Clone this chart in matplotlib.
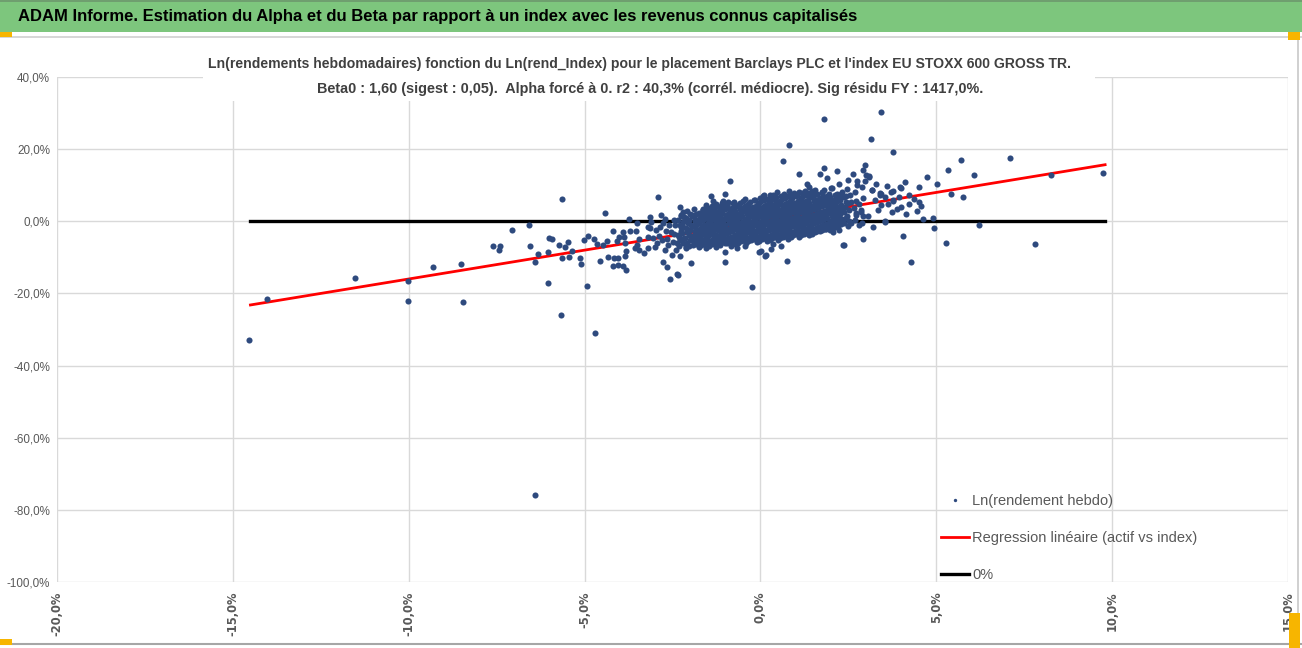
import matplotlib
matplotlib.use("Agg")
import matplotlib.pyplot as plt
from matplotlib.ticker import FuncFormatter, MultipleLocator
from matplotlib.patches import Rectangle
from matplotlib.lines import Line2D

plt.rcParams['font.family'] = ['Liberation Sans', 'DejaVu Sans']

header = "ADAM Informe. Estimation du Alpha et du Beta par rapport à un index avec les revenus connus capitalisés"
title_1 = "Ln(rendements hebdomadaires) fonction du Ln(rend_Index) pour le placement Barclays PLC et l'index EU STOXX 600 GROSS TR."
title_2 = "Beta0 : 1,60 (sigest : 0,05).  Alpha forcé à 0. r2 : 40,3% (corrél. médiocre). Sig résidu FY : 1417,0%."
legend_labels = ["Ln(rendement hebdo)", "Regression linéaire (actif vs index)", "0%"]

beta0 = 1.60
line_x = [-14.5, 9.8]   # range of the index returns (%)

# weekly log returns (%): (index, asset)
pts_left_tail = [
    (-14.55, -33.0), (-14.03, -21.6), (-11.53, -15.8), (-10.03, -16.6), (-10.03, -22.2),
    (-9.32, -12.7), (-8.52, -11.9), (-8.47, -22.4), (-7.59, -6.9), (-7.41, -6.9),
    (-7.44, -8.0), (-7.07, -2.4), (-6.58, -0.9), (-6.56, -6.9), (-6.42, -75.9),
    (-6.42, -11.3), (-6.31, -9.1), (-6.05, -8.6), (-6.05, -17.2), (-6.02, -4.7),
    (-5.94, -5.0), (-5.74, -6.6), (-5.65, -10.2), (-5.65, 6.1), (-5.68, -26.0),
    (-5.55, -7.2), (-5.47, -5.8), (-5.43, -10.0), (-5.35, -8.3), (-5.12, -10.2),
    (-5.09, -11.9), (-5.03, -5.3), (-4.94, -18.0), (-4.89, -4.2), (-4.74, -5.0),
    (-4.66, -6.4), (-4.69, -31.0), (-4.55, -11.1), (-4.49, -6.6), (-4.43, 2.2),
    (-4.37, -5.6), (-4.32, -10.0), (-4.20, -12.5), (-4.18, -2.8), (-4.15, -10.2),
    (-4.06, -10.2), (-4.06, -12.2), (-4.09, -5.6), (-4.01, -4.4), (-3.92, -3.0),
    (-3.92, -12.5), (-3.89, -4.4), (-3.86, -9.7), (-3.81, -13.6), (-3.84, -6.1),
    (-3.81, -8.3), (-3.75, 0.5), (-3.72, -2.8), (-3.52, -0.6), (-3.55, -2.8),
    (-3.52, -6.6), (-3.58, -7.5), (-3.44, -5.0), (-3.44, -8.0), (-3.32, -8.9),
    (-3.21, -1.7), (-3.21, -4.4), (-3.21, -7.5),
]

pts_mid_left = [
    (-3.15, 1.2), (-3.15, -1.8), (-3.10, -0.2), (-3.01, -7.1), (-2.96, -2.5),
    (-2.90, 6.7), (-2.89, -4.1), (-2.82, 1.7), (-2.77, -0.6), (-2.77, -11.3),
    (-2.70, -8.0), (-2.68, -2.7), (-2.66, -12.8), (-2.59, -1.1), (-2.57, -15.9),
    (-2.49, -5.7), (-2.47, 0.3), (-2.40, -8.0), (-2.38, -14.7), (-2.32, -4.3),
    (-2.28, 4.0), (-2.25, -1.6), (-2.19, 2.6), (-2.13, -7.1), (-2.11, 0.7),
    (-2.04, -2.5), (-1.97, -11.6), (-1.94, 1.7), (-1.88, -5.7), (-1.62, 3.5),
    (-1.54, -6.2), (-1.40, 6.9), (-1.31, 4.2), (-1.18, 2.1), (-1.07, 4.4),
    (-1.00, 7.5), (-1.00, -8.5), (-1.00, -11.3), (-0.93, 5.3), (-0.86, 11.2),
    (-0.55, 3.0), (-0.24, -18.2), (-0.03, -8.5), (0.16, -9.4), (0.35, -6.2),
    (0.26, 7.2), (0.43, 5.1), (-3.05, -4.6), (-2.95, -6.0), (-2.85, -1.5),
    (-2.80, -5.2), (-2.72, 0.6), (-2.65, -4.8), (-2.62, -6.6), (-2.55, -2.9),
    (-2.52, -9.4), (-2.45, -3.6), (-2.42, -1.0), (-2.36, -6.1), (-2.30, -9.6),
    (-2.27, 1.5), (-2.33, -14.8), (-1.56, -7.3), (-1.26, -7.1), (-0.83, -6.9),
    (-0.67, -7.3), (-0.45, -6.9), (-1.34, 5.6), (-1.63, 3.2), (0.13, -9.5),
    (0.30, -7.6), (0.02, -8.2), (0.59, -6.9), (0.75, -11.0),
]

pts_core = [
    (-2.31, -6.8), (-2.28, -5.2), (-2.33, -3.9), (-2.27, -2.6), (-2.30, -1.0), (-2.34, 0.4), (-2.26, 1.8),
    (-2.12, -7.5), (-2.08, -6.0), (-2.14, -4.6), (-2.09, -3.1), (-2.11, -1.9), (-2.06, -0.5), (-2.13, 0.9), (-2.10, 2.9),
    (-1.92, -6.6), (-1.88, -5.4), (-1.93, -4.0), (-1.87, -2.8), (-1.91, -1.3), (-1.86, 0.1), (-1.94, 1.4), (-1.89, 3.3),
    (-1.76, -7.0), (-1.72, -5.8), (-1.77, -4.4), (-1.74, -3.3), (-1.71, -2.0), (-1.78, -0.6), (-1.73, 0.8), (-1.75, 2.2),
    (-1.61, -6.3), (-1.58, -5.0), (-1.63, -3.6), (-1.57, -2.3), (-1.60, -1.1), (-1.64, 0.3), (-1.59, 1.7), (-1.62, 3.0), (-1.56, 4.6),
    (-1.46, -6.9), (-1.43, -5.5), (-1.48, -4.2), (-1.44, -2.9), (-1.42, -1.6), (-1.47, -0.2), (-1.45, 1.2), (-1.41, 2.5), (-1.49, 3.7),
    (-1.31, -5.9), (-1.28, -4.7), (-1.33, -3.4), (-1.27, -2.1), (-1.30, -0.8), (-1.34, 0.6), (-1.29, 1.9), (-1.32, 3.2), (-1.26, 4.8),
    (-1.16, -6.6), (-1.13, -5.3), (-1.18, -4.0), (-1.14, -2.6), (-1.12, -1.3), (-1.17, 0.1), (-1.15, 1.4), (-1.11, 2.8), (-1.19, 4.0),
    (-1.01, -6.1), (-0.98, -4.8), (-1.03, -3.5), (-0.97, -2.2), (-1.00, -0.9), (-1.04, 0.5), (-0.99, 1.8), (-1.02, 3.3), (-0.96, 4.6), (-1.05, 5.6),
    (-0.86, -5.6), (-0.83, -4.3), (-0.88, -3.0), (-0.84, -1.7), (-0.82, -0.4), (-0.87, 0.9), (-0.85, 2.3), (-0.81, 3.6),
    (-0.71, -6.4), (-0.68, -5.0), (-0.73, -3.7), (-0.67, -2.4), (-0.70, -1.1), (-0.74, 0.3), (-0.69, 1.6), (-0.72, 2.9), (-0.66, 4.3), (-0.75, 5.4),
    (-0.56, -5.5), (-0.53, -4.2), (-0.58, -2.9), (-0.54, -1.5), (-0.52, -0.2), (-0.57, 1.1), (-0.55, 2.4), (-0.51, 3.8), (-0.59, 5.0),
    (-0.41, -6.0), (-0.38, -4.7), (-0.43, -3.4), (-0.37, -2.0), (-0.40, -0.7), (-0.44, 0.6), (-0.39, 2.0), (-0.42, 3.3), (-0.36, 4.5), (-0.45, 6.1),
    (-0.26, -5.2), (-0.23, -3.9), (-0.28, -2.6), (-0.24, -1.3), (-0.22, 0.0), (-0.27, 1.4), (-0.25, 2.7), (-0.21, 4.0), (-0.29, 5.3),
    (-0.11, -5.8), (-0.08, -4.5), (-0.13, -3.1), (-0.07, -1.8), (-0.10, -0.5), (-0.14, 0.8), (-0.09, 2.1), (-0.12, 3.5), (-0.06, 4.8), (-0.15, 6.0),
    (0.04, -5.0), (0.07, -3.6), (0.02, -2.3), (0.06, -1.0), (0.08, 0.3), (0.03, 1.6), (0.05, 2.9), (0.09, 4.2), (0.01, 5.6), (0.06, 6.9),
    (0.19, -5.5), (0.22, -4.2), (0.17, -2.8), (0.23, -1.5), (0.20, -0.2), (0.16, 1.1), (0.21, 2.4), (0.18, 3.7), (0.24, 5.0), (0.15, 6.3),
    (0.34, -4.7), (0.37, -3.4), (0.32, -2.1), (0.36, -0.8), (0.38, 0.5), (0.33, 1.8), (0.35, 3.2), (0.39, 4.5), (0.31, 5.8), (0.36, 7.2),
    (0.49, -5.1), (0.52, -3.8), (0.47, -2.5), (0.53, -1.2), (0.50, 0.1), (0.46, 1.4), (0.51, 2.7), (0.48, 4.0), (0.54, 5.3), (0.45, 6.6),
    (0.64, -4.4), (0.67, -3.1), (0.62, -1.8), (0.66, -0.5), (0.68, 0.8), (0.63, 2.1), (0.65, 3.4), (0.69, 4.8), (0.61, 6.1), (0.66, 7.5),
    (0.79, -4.8), (0.82, -3.5), (0.77, -2.2), (0.83, -0.9), (0.80, 0.4), (0.76, 1.7), (0.81, 3.0), (0.78, 4.3), (0.84, 5.7), (0.75, 7.0),
    (0.94, -3.9), (0.97, -2.6), (0.92, -1.3), (0.96, 0.0), (0.98, 1.3), (0.93, 2.6), (0.95, 3.9), (0.99, 5.2), (0.91, 6.5), (0.96, 7.9),
    (1.09, -4.3), (1.12, -3.0), (1.07, -1.7), (1.13, -0.4), (1.10, 0.9), (1.06, 2.2), (1.11, 3.5), (1.08, 4.8), (1.14, 6.1), (1.05, 7.4),
    (1.24, -3.5), (1.27, -2.2), (1.22, -0.9), (1.26, 0.4), (1.28, 1.7), (1.23, 3.0), (1.25, 4.3), (1.29, 5.6), (1.21, 6.9), (1.26, 8.4),
    (1.39, -3.9), (1.42, -2.6), (1.37, -1.3), (1.43, 0.0), (1.40, 1.3), (1.36, 2.6), (1.41, 3.9), (1.38, 5.2), (1.44, 6.6), (1.35, 7.9),
    (1.54, -3.1), (1.57, -1.8), (1.52, -0.5), (1.56, 0.8), (1.58, 2.1), (1.53, 3.4), (1.55, 4.7), (1.59, 6.0), (1.51, 7.3), (1.56, 8.8),
    (1.69, -2.6), (1.72, -1.3), (1.67, 0.0), (1.73, 1.3), (1.70, 2.6), (1.66, 3.9), (1.71, 5.2), (1.68, 6.5), (1.74, 7.8),
    (1.84, -2.0), (1.87, -0.7), (1.82, 0.6), (1.86, 1.9), (1.88, 3.2), (1.83, 4.5), (1.85, 5.8), (1.89, 7.1), (1.81, 8.6),
    (1.99, -2.4), (2.02, -1.1), (1.97, 0.2), (2.03, 1.5), (2.00, 2.8), (1.96, 4.1), (2.01, 5.4), (1.98, 6.8), (2.04, 9.2),
    (2.14, -1.6), (2.17, -0.3), (2.12, 1.0), (2.16, 2.3), (2.18, 3.6), (2.13, 4.9), (2.15, 6.2), (2.19, 7.6),
    (2.29, -0.8), (2.32, 0.5), (2.27, 1.9), (2.33, 3.2), (2.30, 4.6), (2.26, 6.0), (2.31, 8.2),
    (2.48, -1.3), (2.53, 0.2), (2.46, 1.6), (2.52, 3.0), (2.49, 5.0), (2.55, 7.3), (2.47, 9.0),
    (2.68, 0.4), (2.73, 2.2), (2.66, 3.8), (2.71, 5.6), (2.69, 8.0), (2.74, 10.1),
    (2.89, -0.6), (2.93, 1.4), (2.87, 3.1), (2.92, 6.4), (2.88, 9.4),
]

# second, offset pass over the densest part of the cloud
pts_core_fill = [
    (-2.21, -6.1), (-2.18, -4.5), (-2.22, -3.2), (-2.19, -1.6), (-2.20, -0.2), (-2.17, 1.2),
    (-2.02, -6.8), (-1.99, -5.2), (-2.03, -3.8), (-2.00, -2.4), (-1.98, -1.1), (-2.04, 0.4), (-2.01, 2.0),
    (-1.84, -6.2), (-1.81, -4.8), (-1.85, -3.5), (-1.82, -2.2), (-1.80, -0.8), (-1.86, 0.6), (-1.83, 1.9),
    (-1.69, -6.6), (-1.66, -5.3), (-1.70, -3.9), (-1.67, -2.6), (-1.65, -1.3), (-1.71, 0.0), (-1.68, 1.4), (-1.64, 2.7),
    (-1.54, -5.8), (-1.51, -4.4), (-1.55, -3.1), (-1.52, -1.8), (-1.50, -0.5), (-1.56, 0.9), (-1.53, 2.2), (-1.49, 3.5),
    (-1.39, -6.3), (-1.36, -4.9), (-1.40, -3.6), (-1.37, -2.3), (-1.35, -1.0), (-1.41, 0.4), (-1.38, 1.8), (-1.34, 3.1), (-1.39, 4.2),
    (-1.24, -6.1), (-1.21, -5.0), (-1.25, -3.7), (-1.22, -2.4), (-1.20, -1.0), (-1.26, 0.3), (-1.23, 1.6), (-1.19, 2.9), (-1.24, 4.1),
    (-1.09, -5.7), (-1.06, -4.4), (-1.10, -3.1), (-1.07, -1.8), (-1.05, -0.5), (-1.11, 0.9), (-1.08, 2.2), (-1.04, 3.5), (-1.09, 5.0),
    (-0.94, -6.0), (-0.91, -4.6), (-0.95, -3.3), (-0.92, -2.0), (-0.90, -0.6), (-0.96, 0.7), (-0.93, 2.0), (-0.89, 3.3), (-0.94, 4.4),
    (-0.79, -5.4), (-0.76, -4.1), (-0.80, -2.8), (-0.77, -1.5), (-0.75, -0.2), (-0.81, 1.2), (-0.78, 2.5), (-0.74, 3.9), (-0.79, 5.0),
    (-0.64, -5.9), (-0.61, -4.6), (-0.65, -3.3), (-0.62, -1.9), (-0.60, -0.6), (-0.66, 0.7), (-0.63, 2.0), (-0.59, 3.4), (-0.64, 4.6),
    (-0.49, -5.2), (-0.46, -3.9), (-0.50, -2.5), (-0.47, -1.2), (-0.45, 0.1), (-0.51, 1.5), (-0.48, 2.8), (-0.44, 4.1), (-0.49, 5.5),
    (-0.34, -5.6), (-0.31, -4.3), (-0.35, -3.0), (-0.32, -1.6), (-0.30, -0.3), (-0.36, 1.0), (-0.33, 2.4), (-0.29, 3.7), (-0.34, 4.9),
    (-0.19, -5.0), (-0.16, -3.6), (-0.20, -2.3), (-0.17, -1.0), (-0.15, 0.3), (-0.21, 1.7), (-0.18, 3.0), (-0.14, 4.3), (-0.19, 5.8),
    (-0.04, -5.4), (-0.01, -4.1), (-0.05, -2.7), (-0.02, -1.4), (0.00, -0.1), (-0.06, 1.2), (-0.03, 2.5), (0.01, 3.8), (-0.04, 5.2), (-0.02, 6.4),
    (0.11, -4.6), (0.14, -3.3), (0.10, -2.0), (0.13, -0.7), (0.15, 0.6), (0.09, 1.9), (0.12, 3.2), (0.16, 4.5), (0.11, 5.9),
    (0.26, -5.1), (0.29, -3.8), (0.25, -2.4), (0.28, -1.1), (0.30, 0.2), (0.24, 1.5), (0.27, 2.8), (0.31, 4.1), (0.26, 5.4), (0.28, 6.7),
    (0.41, -4.3), (0.44, -3.0), (0.40, -1.7), (0.43, -0.4), (0.45, 0.9), (0.39, 2.2), (0.42, 3.5), (0.46, 4.8), (0.41, 6.2),
    (0.56, -4.7), (0.59, -3.4), (0.55, -2.1), (0.58, -0.8), (0.60, 0.5), (0.54, 1.8), (0.57, 3.1), (0.61, 4.4), (0.56, 5.7), (0.58, 7.0),
    (0.71, -4.0), (0.74, -2.7), (0.70, -1.4), (0.73, -0.1), (0.75, 1.2), (0.69, 2.5), (0.72, 3.8), (0.76, 5.1), (0.71, 6.4),
    (0.86, -4.3), (0.89, -3.0), (0.85, -1.7), (0.88, -0.4), (0.90, 0.9), (0.84, 2.2), (0.87, 3.5), (0.91, 4.8), (0.86, 6.1), (0.88, 7.4),
    (1.01, -3.6), (1.04, -2.3), (1.00, -1.0), (1.03, 0.3), (1.05, 1.6), (0.99, 2.9), (1.02, 4.2), (1.06, 5.5), (1.01, 6.9),
    (1.16, -3.9), (1.19, -2.6), (1.15, -1.3), (1.18, 0.0), (1.20, 1.3), (1.14, 2.6), (1.17, 3.9), (1.21, 5.2), (1.16, 6.5), (1.18, 7.8),
    (1.31, -3.2), (1.34, -1.9), (1.30, -0.6), (1.33, 0.7), (1.35, 2.0), (1.29, 3.3), (1.32, 4.6), (1.36, 5.9), (1.31, 7.3),
    (1.46, -3.5), (1.49, -2.2), (1.45, -0.9), (1.48, 0.4), (1.50, 1.7), (1.44, 3.0), (1.47, 4.3), (1.51, 5.6), (1.46, 6.9), (1.48, 8.3),
    (1.61, -2.8), (1.64, -1.5), (1.60, -0.2), (1.63, 1.1), (1.65, 2.4), (1.59, 3.7), (1.62, 5.0), (1.66, 6.3), (1.61, 7.6),
    (1.76, -2.3), (1.79, -1.0), (1.75, 0.3), (1.78, 1.6), (1.80, 2.9), (1.74, 4.2), (1.77, 5.5), (1.81, 6.8), (1.76, 8.1),
    (1.91, -1.7), (1.94, -0.4), (1.90, 0.9), (1.93, 2.2), (1.95, 3.5), (1.89, 4.8), (1.92, 6.1), (1.96, 7.6),
    (2.06, -1.9), (2.09, -0.6), (2.05, 0.7), (2.08, 2.0), (2.10, 3.3), (2.04, 4.6), (2.07, 5.9), (2.11, 7.2),
    (2.21, -1.2), (2.24, 0.2), (2.20, 1.5), (2.23, 2.8), (2.25, 4.2), (2.19, 5.5), (2.22, 6.9),
    (2.39, -0.4), (2.42, 1.0), (2.38, 2.5), (2.41, 3.9), (2.43, 5.4), (2.37, 6.7),
]

pts_right = [
    (0.63, 16.7), (1.09, 13.0), (1.70, 13.2), (1.82, 14.9), (1.88, 12.1), (2.17, 13.9),
    (2.48, 11.5), (2.64, 13.0), (2.74, 11.2), (2.97, 15.5), (2.93, 14.3), (3.00, 12.7),
    (3.10, 12.3), (3.17, 8.8), (3.43, 7.7), (3.43, 4.4), (3.71, 8.1), (3.74, 2.6),
    (3.78, 5.8), (3.97, 9.5), (4.00, 4.0), (4.23, 4.9), (4.06, -4.2), (4.28, -11.3),
    (3.55, -0.2), (2.91, -4.8), (2.36, -6.6), (0.11, 7.2), (0.47, 8.1), (0.80, 8.4),
    (1.11, 8.1), (1.32, 10.2), (1.39, 9.5), (2.01, 9.3), (2.22, 10.2), (2.29, 7.7),
    (2.43, 6.9), (2.58, 5.3), (2.81, 4.7), (2.86, 2.6), (2.72, 1.7), (2.58, -0.6),
    (2.24, -2.5), (2.05, -3.0), (1.87, -2.0), (1.82, 28.3), (3.43, 30.4), (3.13, 22.7),
    (3.76, 19.2), (0.80, 21.2), (5.70, 17.1), (5.34, 14.1), (6.08, 12.7), (4.75, 12.4),
    (5.02, 10.3), (5.75, 6.7), (5.42, 7.7), (6.22, -0.9), (5.28, -6.0), (4.92, 0.8),
    (4.94, -1.9), (4.61, 0.6), (4.52, 5.3), (4.56, 4.2), (4.00, 9.1), (3.78, 8.3),
    (3.41, 7.8), (3.54, 0.0), (2.37, -6.5), (7.09, 17.6), (8.25, 12.7), (9.75, 13.5),
    (7.80, -6.3), (4.52, 9.5), (4.22, 7.4), (3.76, 5.5), (3.40, 7.2), (3.17, 8.6),
    (3.08, 12.5), (2.98, 11.2), (2.81, -1.1), (3.25, 5.9), (3.35, 3.1), (3.55, 6.6),
    (3.62, 4.9), (3.88, 3.3), (3.95, 6.7), (4.15, 2.0), (4.38, 6.2), (4.45, 2.9),
    (3.05, 1.5), (3.20, -1.7), (3.30, 10.4), (3.60, 9.8), (4.10, 10.9),
]

dot_color = "#2E4A7E"
grid_color = "#D9D9D9"
text_grey = "#595959"

W, H = 1302, 648
fig = plt.figure(figsize=(W / 100, H / 100), dpi=100)
ax = fig.add_axes([57 / W, 66 / H, (1288 - 57) / W, (582 - 77) / H])

# header band and frame
fig.patches.append(Rectangle((0, 1 - 32 / H), 1, 32 / H, transform=fig.transFigure,
                             facecolor="#7DC67D", edgecolor="none", zorder=0))
fig.patches.append(Rectangle((0, 1 - 2 / H), 1, 2 / H, transform=fig.transFigure,
                             facecolor="#6F9F6F", edgecolor="none", zorder=1))
fig.add_artist(Line2D([0, 1], [1 - 37 / H, 1 - 37 / H], transform=fig.transFigure,
                      color="#D0D0D0", lw=1.2))
fig.add_artist(Line2D([1298 / W, 1298 / W], [3 / H, 1 - 37 / H], transform=fig.transFigure,
                      color="#C8C8C8", lw=1.2))
fig.add_artist(Line2D([0, 1], [4 / H, 4 / H], transform=fig.transFigure,
                      color="#A6A6A6", lw=1.5))
for (hx, hy, hw, hh) in [(0, 611, 12, 5), (1288, 608, 12, 8), (0, 3, 12, 6), (1289, 0, 11, 35)]:
    fig.patches.append(Rectangle((hx / W, hy / H), hw / W, hh / H, transform=fig.transFigure,
                                 facecolor="#F7B500", edgecolor="none", zorder=2))
t_head = fig.text(18 / W, 1 - 17 / H, header, fontsize=14, fontweight="bold", color="black",
                  ha="left", va="center")

xs, ys = [], []
for grp in [pts_left_tail, pts_mid_left, pts_core, pts_core_fill, pts_right]:
    xs += [p[0] for p in grp]
    ys += [p[1] for p in grp]

ax.plot(xs, ys, linestyle="none", marker="o", ms=4.4, mew=0, color=dot_color,
        label=legend_labels[0], zorder=4)
ax.plot(line_x, [beta0 * v for v in line_x], color="#FF0000", lw=2,
        label=legend_labels[1], zorder=3)
ax.plot(line_x, [0, 0], color="black", lw=2.4, label=legend_labels[2], zorder=2)

ax.set_xlim(-20, 15)
ax.set_ylim(-100, 40)
ax.xaxis.set_major_locator(MultipleLocator(5))
ax.yaxis.set_major_locator(MultipleLocator(20))
fmt = FuncFormatter(lambda v, pos: f"{v:.1f}%".replace(".", ","))
ax.xaxis.set_major_formatter(fmt)
ax.yaxis.set_major_formatter(fmt)
ax.grid(True, color=grid_color, lw=1)
ax.set_axisbelow(True)
for s in ax.spines.values():
    s.set_visible(False)
ax.tick_params(length=0)
ax.tick_params(axis="y", labelsize=8.4, labelcolor=text_grey, pad=5)
ax.tick_params(axis="x", labelsize=8.3, labelcolor=text_grey, pad=7, labelrotation=90)
for lab in ax.get_xticklabels():
    lab.set_family("DejaVu Sans")
    lab.set_fontweight("bold")

# white block behind the chart title, hiding the top of the grid
fig.add_artist(Rectangle((203 / W, 1 - 101 / H), (1095 - 203) / W, 52 / H,
                         transform=fig.transFigure, facecolor="white", edgecolor="none", zorder=1))
t1 = fig.text(640 / W, 1 - 64 / H, title_1, ha="center", va="center",
              fontsize=11, fontweight="bold", color="#404040", zorder=5)
t2 = fig.text(650 / W, 1 - 89 / H, title_2, ha="center", va="center",
              fontsize=11, fontweight="bold", color="#404040", zorder=5)

leg = ax.legend(loc="center left", bbox_to_anchor=((935 - 57) / 1231, (582 - 538) / 505),
                frameon=False, fontsize=10.5, labelcolor=text_grey, handlelength=1.9,
                handletextpad=0.25, labelspacing=1.55, markerscale=0.55, borderaxespad=0)

# squeeze the header and title texts to the widths they have in the picture
fig.canvas.draw()
rend = fig.canvas.get_renderer()
for txt, target in [(t_head, 843), (t1, 863), (t2, 668)]:
    w = txt.get_window_extent(rend).width
    txt.set_fontsize(txt.get_fontsize() * target / w)

fig.savefig("out.png", dpi=100, facecolor="white")
